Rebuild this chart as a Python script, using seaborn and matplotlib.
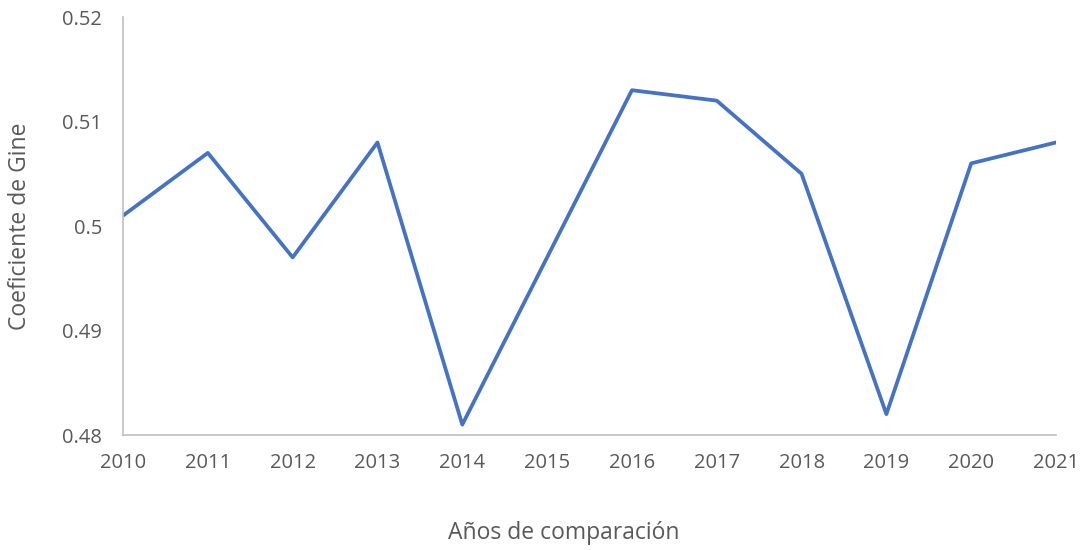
import matplotlib
matplotlib.use("Agg")
import matplotlib.pyplot as plt
import seaborn as sns
import pandas as pd

years = [2010, 2011, 2012, 2013, 2014, 2015, 2016, 2017, 2018, 2019, 2020, 2021]
gini = [0.501, 0.507, 0.497, 0.508, 0.481, 0.497, 0.513, 0.512, 0.505, 0.482, 0.506, 0.508]
yticks = [0.48, 0.49, 0.5, 0.51, 0.52]
ytick_labels = ["0.48", "0.49", "0.5", "0.51", "0.52"]

sns.set_theme(style="white")
plt.rcParams['font.family'] = ['Open Sans', 'DejaVu Sans']

df = pd.DataFrame({"year": years, "gini": gini})

fig = plt.figure(figsize=(10.8, 5.5), dpi=100)
ax = fig.add_axes([0.1139, 0.209, 0.8639, 0.760])
sns.lineplot(data=df, x="year", y="gini", ax=ax, color="#4472C4", linewidth=2.7)

ax.set_xlim(2010, 2021)
ax.set_ylim(0.48, 0.52)
ax.set_xticks(years)
ax.set_xticklabels([str(y) for y in years], fontsize=14.5, color="#595959")
ax.set_yticks(yticks)
ax.set_yticklabels(ytick_labels, fontsize=14.5, color="#595959")
ax.tick_params(axis='x', length=0, pad=13)
ax.tick_params(axis='y', length=0, pad=15)

for s in ["top", "right"]:
    ax.spines[s].set_visible(False)
for s in ["left", "bottom"]:
    ax.spines[s].set_color("#BFBFBF")
    ax.spines[s].set_linewidth(1.2)

ax.set_xlabel("Años de comparación", fontsize=16.5, color="#595959")
ax.xaxis.set_label_coords(0.4727, -0.205)
ax.set_ylabel("Coeficiente de Gine", fontsize=16.5, color="#595959", labelpad=22)

fig.savefig("out.png", dpi=100)
